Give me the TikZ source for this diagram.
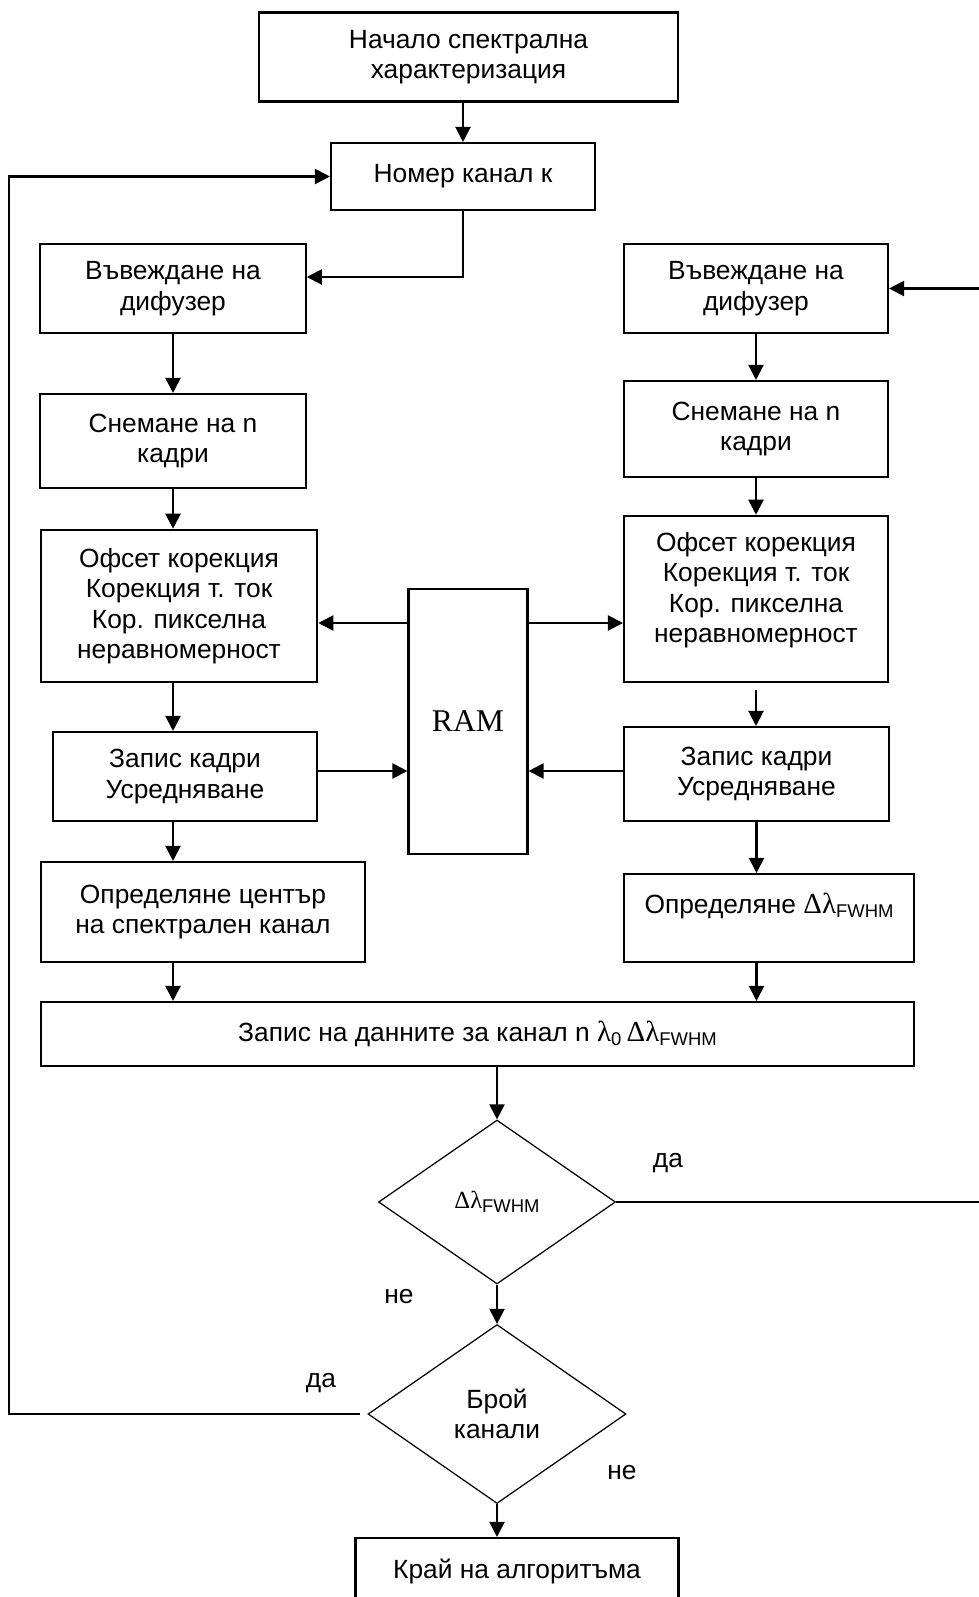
\documentclass[tikz,border=0pt]{standalone}
\usepackage{fontspec}
\setmainfont{Liberation Sans}
\newfontfamily\symfont{Liberation Serif}
\usetikzlibrary{arrows.meta, shapes.geometric}
\tikzset{blok/.style = {draw, line width=1.2pt, align=center, inner sep=2pt}}
\tikzset{romb/.style = {draw, diamond, line width=0.7pt, align=center, inner sep=0pt}}
\tikzset{strelka/.style = {line width=1.2pt, -{Triangle[length=0.3cm, width=0.3cm]}}}
\newcommand{\dl}{{\symfont\fontsize{16.5}{17}\selectfont Δλ}}
\newcommand{\fwhm}{\raisebox{-2.5pt}{\fontsize{10.5}{10}\selectfont FWHM}}

\begin{document}
\begin{tikzpicture}[x=0.02cm, y=-0.02cm, font=\fontsize{15}{17.3}\selectfont]
\useasboundingbox (0,0) rectangle (978,1597);
\node[blok, minimum width=8.38cm, minimum height=1.78cm] (start) at (468.5,57) {Начало спектрална\\характеризация};
\node[blok, minimum width=5.28cm, minimum height=1.34cm] (nomer) at (463,176.5) {Номер канал к};
\node[blok, minimum width=5.31cm, minimum height=1.78cm] (vav1) at (173,288.5) {Въвеждане на\\дифузер};
\node[blok, minimum width=5.28cm, minimum height=1.78cm] (vav2) at (756,288.5) {Въвеждане на\\дифузер};
\node[blok, minimum width=5.31cm, minimum height=1.88cm] (sn1) at (173,441) {Снемане на n\\кадри};
\node[blok, minimum width=5.28cm, minimum height=1.92cm] (sn2) at (756,429) {Снемане на n\\кадри};
\node[blok, minimum width=5.53cm, minimum height=3.05cm] (of1) at (179,606) {Офсет корекция\\Корекция т. ток\\Кор. пикселна\\неравномерност};
\node[blok, minimum width=5.28cm, minimum height=3.33cm, text depth=0.47cm] (of2) at (756,599) {Офсет корекция\\Корекция т. ток\\Кор. пикселна\\неравномерност};
\node[blok, minimum width=2.38cm, minimum height=5.3cm, font=\symfont\fontsize{18}{20}\selectfont] (ram) at (468,721.5) {RAM};
\node[blok, minimum width=5.28cm, minimum height=1.78cm] (zap1) at (185,776.5) {Запис кадри\\Усредняване};
\node[blok, minimum width=5.3cm, minimum height=1.88cm] (zap2) at (756.5,774) {Запис кадри\\Усредняване};
\node[blok, minimum width=6.49cm, minimum height=2cm] (opr1) at (203,912) {Определяне център\\на спектрален канал};
\node[blok, minimum width=5.81cm, minimum height=1.76cm, text depth=0.6cm] (opr2) at (769,918) {Определяне \dl\fwhm};
\node[blok, minimum width=17.48cm, minimum height=1.28cm] (dan) at (477.5,1034) {Запис на данните за канал n {\symfont\fontsize{16.5}{17}\selectfont λ}\textsubscript{0}\,\dl\fwhm};
\node[romb, minimum width=4.74cm, minimum height=3.28cm] (d1) at (497,1202) {{\symfont\fontsize{14}{14}\selectfont Δλ}\fwhm};
\node[romb, minimum width=5.16cm, minimum height=3.58cm] (d2) at (497,1414) {Брой\\канали};
\node[blok, minimum width=6.46cm, minimum height=1.32cm] (kraj) at (517,1571) {Край на алгоритъма};
\node (da1) at (668,1163) {да};
\node (ne1) at (399,1297) {не};
\node (da2) at (321,1383) {да};
\node (ne2) at (622,1473) {не};
\coordinate (r1) at (468,623);
\coordinate (r2) at (468,771);
\coordinate (lz) at (9,0);
\coordinate (pz) at (985,0);
\draw[strelka] (nomer.north |- start.south) -- (nomer.north);
\draw[strelka] (nomer.south) |- ([yshift=0.23cm]vav1.east);
\draw[strelka] (vav1) -- (sn1);
\draw[strelka] (vav2) -- (sn2);
\draw[strelka] (sn1.south) -- (sn1.south |- of1.north);
\draw[strelka] (sn2) -- (of2);
\draw[strelka] (sn1.south |- of1.south) -- (sn1.south |- zap1.north);
\draw[strelka] ([yshift=-0.14cm]of2.south) -- (of2.south |- zap2.north);
\draw[strelka] (sn1.south |- zap1.south) -- (sn1.south |- opr1.north);
\draw[strelka] (zap2.south) -- (zap2.south |- opr2.north);
\draw[strelka] (sn1.south |- opr1.south) -- (sn1.south |- dan.north);
\draw[strelka] (zap2.south |- opr2.south) -- (zap2.south |- dan.north);
\draw[strelka] (ram.west |- r1) -- (of1.east |- r1);
\draw[strelka] (ram.east |- r1) -- (of2.west |- r1);
\draw[strelka] (zap1.east |- r2) -- (ram.west |- r2);
\draw[strelka] (zap2.west |- r2) -- (ram.east |- r2);
\draw[strelka] (d1.north |- dan.south) -- (d1.north);
\draw[strelka] (d1.south) -- (d2.north);
\draw[strelka] (d2.south) -- (d2.south |- kraj.north);
\draw[strelka] (d1.east) -- (pz |- d1.east) -- (pz |- vav2.east) -- (vav2.east);
\draw[strelka] ([xshift=-0.14cm]d2.west) -- (lz |- d2.west) -- (lz |- nomer.west) -- (nomer.west);
\end{tikzpicture}
\end{document}
